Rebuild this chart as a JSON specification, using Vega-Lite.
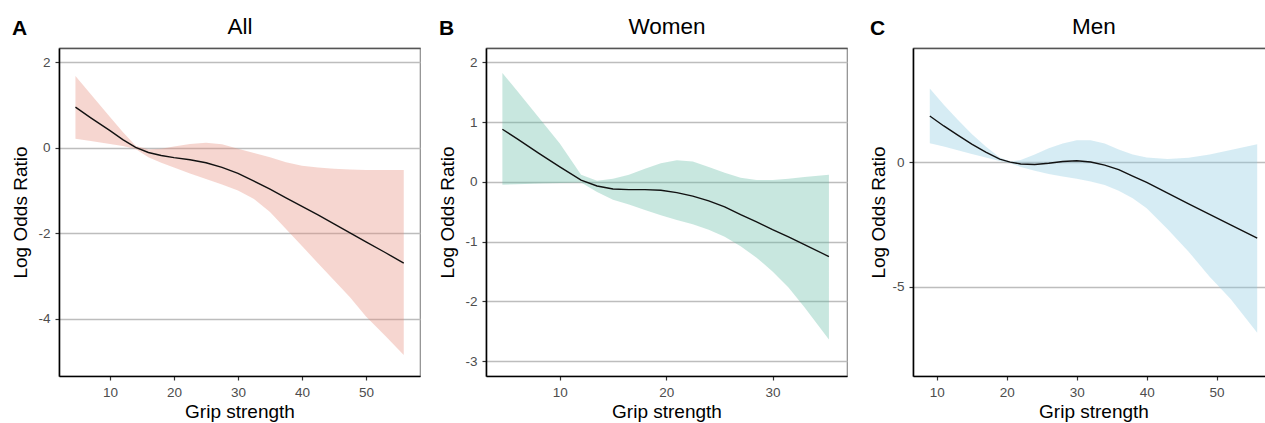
{
  "$schema": "https://vega.github.io/schema/vega-lite/v6.json",
  "padding": {"left": 11, "top": 14, "right": 0, "bottom": 0},
  "spacing": 66,
  "bounds": "flush",
  "config": {
    "font": "Liberation Sans",
    "view": {"stroke": "#8c8c8c", "strokeWidth": 1.2},
    "axis": {
      "labelFont": "Liberation Sans", "titleFont": "Liberation Sans",
      "labelFontSize": 13.5, "labelColor": "#4D4D4D",
      "titleFontSize": 19, "titleFontWeight": "normal", "titleColor": "black",
      "tickColor": "#333333", "tickSize": 4, "tickWidth": 1.2,
      "domainColor": "black", "domainWidth": 1.6,
      "gridColor": "#bdbdbd", "gridWidth": 1.3
    },
    "title": {"font": "Liberation Sans", "fontSize": 21, "fontWeight": "bold", "color": "black", "anchor": "start", "frame": "bounds", "offset": 0}
  },
  "datasets": {
    "A": [
      {"x": 4.6, "fit": 0.95, "lo": 0.21, "hi": 1.68},
      {"x": 7, "fit": 0.70, "lo": 0.16, "hi": 1.25},
      {"x": 10, "fit": 0.40, "lo": 0.09, "hi": 0.72},
      {"x": 12, "fit": 0.19, "lo": 0.04, "hi": 0.37},
      {"x": 14, "fit": 0.01, "lo": -0.03, "hi": 0.05},
      {"x": 16, "fit": -0.11, "lo": -0.22, "hi": -0.04},
      {"x": 18, "fit": -0.18, "lo": -0.35, "hi": -0.02},
      {"x": 20, "fit": -0.23, "lo": -0.46, "hi": 0.03},
      {"x": 22.5, "fit": -0.28, "lo": -0.6, "hi": 0.09},
      {"x": 25, "fit": -0.35, "lo": -0.73, "hi": 0.12},
      {"x": 27.5, "fit": -0.46, "lo": -0.86, "hi": 0.08},
      {"x": 30, "fit": -0.6, "lo": -1.0, "hi": -0.02},
      {"x": 32.5, "fit": -0.78, "lo": -1.2, "hi": -0.12},
      {"x": 35, "fit": -0.97, "lo": -1.5, "hi": -0.22},
      {"x": 37.5, "fit": -1.17, "lo": -1.9, "hi": -0.34},
      {"x": 40, "fit": -1.37, "lo": -2.3, "hi": -0.42},
      {"x": 42.5, "fit": -1.57, "lo": -2.7, "hi": -0.46},
      {"x": 45, "fit": -1.78, "lo": -3.1, "hi": -0.49},
      {"x": 47.5, "fit": -1.99, "lo": -3.5, "hi": -0.51},
      {"x": 50, "fit": -2.2, "lo": -3.95, "hi": -0.52},
      {"x": 53, "fit": -2.45, "lo": -4.4, "hi": -0.52},
      {"x": 55.9, "fit": -2.7, "lo": -4.85, "hi": -0.52}
    ],
    "B": [
      {"x": 4.6, "fit": 0.88, "lo": -0.05, "hi": 1.82},
      {"x": 6, "fit": 0.72, "lo": -0.04, "hi": 1.52},
      {"x": 8, "fit": 0.48, "lo": -0.03, "hi": 1.08},
      {"x": 10, "fit": 0.25, "lo": -0.02, "hi": 0.64},
      {"x": 12, "fit": 0.03, "lo": -0.01, "hi": 0.12},
      {"x": 13.5, "fit": -0.07, "lo": -0.17, "hi": 0.02},
      {"x": 15, "fit": -0.12, "lo": -0.3, "hi": 0.05},
      {"x": 16.5, "fit": -0.13, "lo": -0.38, "hi": 0.12},
      {"x": 18, "fit": -0.13, "lo": -0.47, "hi": 0.22},
      {"x": 19.5, "fit": -0.14, "lo": -0.56, "hi": 0.31},
      {"x": 21, "fit": -0.18, "lo": -0.64, "hi": 0.36},
      {"x": 22.5, "fit": -0.24, "lo": -0.71, "hi": 0.34},
      {"x": 24, "fit": -0.32, "lo": -0.8, "hi": 0.25},
      {"x": 25.5, "fit": -0.42, "lo": -0.92, "hi": 0.15},
      {"x": 27, "fit": -0.55, "lo": -1.08, "hi": 0.07},
      {"x": 28.5, "fit": -0.67, "lo": -1.27, "hi": 0.03},
      {"x": 30, "fit": -0.8, "lo": -1.5, "hi": 0.03},
      {"x": 31.5, "fit": -0.92, "lo": -1.77, "hi": 0.05},
      {"x": 33, "fit": -1.05, "lo": -2.1, "hi": 0.08},
      {"x": 35.3, "fit": -1.25, "lo": -2.64, "hi": 0.12}
    ],
    "C": [
      {"x": 9, "fit": 1.85, "lo": 0.76, "hi": 2.95},
      {"x": 11, "fit": 1.45, "lo": 0.62, "hi": 2.3},
      {"x": 13, "fit": 1.08, "lo": 0.47, "hi": 1.7},
      {"x": 15, "fit": 0.72, "lo": 0.32, "hi": 1.13},
      {"x": 17, "fit": 0.4, "lo": 0.18, "hi": 0.62},
      {"x": 19, "fit": 0.12, "lo": 0.04, "hi": 0.18},
      {"x": 20.5, "fit": 0.0, "lo": -0.05, "hi": 0.02},
      {"x": 22, "fit": -0.08, "lo": -0.2, "hi": 0.08},
      {"x": 24, "fit": -0.1, "lo": -0.35, "hi": 0.3},
      {"x": 26, "fit": -0.05, "lo": -0.48, "hi": 0.55},
      {"x": 28, "fit": 0.02, "lo": -0.58, "hi": 0.75},
      {"x": 30, "fit": 0.05, "lo": -0.67, "hi": 0.88},
      {"x": 32, "fit": 0.0, "lo": -0.78, "hi": 0.88},
      {"x": 34, "fit": -0.12, "lo": -0.92, "hi": 0.75},
      {"x": 36, "fit": -0.3, "lo": -1.15, "hi": 0.5},
      {"x": 38, "fit": -0.56, "lo": -1.45, "hi": 0.3},
      {"x": 40, "fit": -0.82, "lo": -1.85, "hi": 0.18},
      {"x": 43, "fit": -1.25, "lo": -2.7, "hi": 0.12},
      {"x": 46, "fit": -1.68, "lo": -3.6, "hi": 0.17},
      {"x": 49, "fit": -2.1, "lo": -4.6, "hi": 0.3},
      {"x": 52, "fit": -2.52, "lo": -5.5, "hi": 0.48},
      {"x": 55.8, "fit": -3.05, "lo": -6.85, "hi": 0.72}
    ]
  },
  "hconcat": [
    {
      "width": 361, "height": 328,
      "title": {"text": "A", "dy": 28},
      "data": {"name": "A"},
      "resolve": {"axis": {"x": "independent"}},
      "layer": [
        {
          "mark": {"type": "area", "color": "#E58A79", "opacity": 0.35},
          "encoding": {
            "x": {"field": "x", "type": "quantitative", "scale": {"domain": [2.03, 58.44], "nice": false, "zero": false},
                  "axis": {"orient": "bottom", "title": "Grip strength", "values": [10, 20, 30, 40, 50], "grid": false, "labelPadding": 5, "titlePadding": 4}},
            "y": {"field": "lo", "type": "quantitative", "scale": {"domain": [-5.34, 2.335], "nice": false, "zero": false},
                  "axis": {"title": "Log Odds Ratio", "values": [-4, -2, 0, 2], "labelExpr": "replace(datum.label, '\u2212', '-')", "grid": true, "labelPadding": 5, "titlePadding": 7}},
            "y2": {"field": "hi"}
          }
        },
        {
          "mark": {"type": "line", "color": "#111111", "strokeWidth": 1.4},
          "encoding": {
            "x": {"field": "x", "type": "quantitative",
                  "axis": {"orient": "top", "title": "All", "titleFontSize": 22.5, "titlePadding": 10, "labels": false, "ticks": false, "grid": false, "domainColor": "#555555", "domainWidth": 1.4}},
            "y": {"field": "fit", "type": "quantitative", "axis": {"title": "Log Odds Ratio", "values": [-4, -2, 0, 2], "labelExpr": "replace(datum.label, '\u2212', '-')", "grid": true, "labelPadding": 5, "titlePadding": 7}}
          }
        }
      ]
    },
    {
      "width": 361, "height": 328,
      "title": {"text": "B", "dy": 28},
      "data": {"name": "B"},
      "resolve": {"axis": {"x": "independent"}},
      "layer": [
        {
          "mark": {"type": "area", "color": "#62BAA4", "opacity": 0.35},
          "encoding": {
            "x": {"field": "x", "type": "quantitative", "scale": {"domain": [3.06, 37.0], "nice": false, "zero": false},
                  "axis": {"orient": "bottom", "title": "Grip strength", "values": [10, 20, 30], "grid": false, "labelPadding": 5, "titlePadding": 4}},
            "y": {"field": "lo", "type": "quantitative", "scale": {"domain": [-3.25, 2.24], "nice": false, "zero": false},
                  "axis": {"title": "Log Odds Ratio", "values": [-3, -2, -1, 0, 1, 2], "labelExpr": "replace(datum.label, '\u2212', '-')", "grid": true, "labelPadding": 5, "titlePadding": 7}},
            "y2": {"field": "hi"}
          }
        },
        {
          "mark": {"type": "line", "color": "#111111", "strokeWidth": 1.4},
          "encoding": {
            "x": {"field": "x", "type": "quantitative",
                  "axis": {"orient": "top", "title": "Women", "titleFontSize": 22.5, "titlePadding": 10, "labels": false, "ticks": false, "grid": false, "domainColor": "#555555", "domainWidth": 1.4}},
            "y": {"field": "fit", "type": "quantitative", "axis": {"title": "Log Odds Ratio", "values": [-3, -2, -1, 0, 1, 2], "labelExpr": "replace(datum.label, '\u2212', '-')", "grid": true, "labelPadding": 5, "titlePadding": 7}}
          }
        }
      ]
    },
    {
      "width": 361, "height": 328,
      "title": {"text": "C", "dy": 28},
      "data": {"name": "C"},
      "resolve": {"axis": {"x": "independent"}},
      "layer": [
        {
          "mark": {"type": "area", "color": "#8AC9E0", "opacity": 0.35},
          "encoding": {
            "x": {"field": "x", "type": "quantitative", "scale": {"domain": [6.6, 58.2], "nice": false, "zero": false},
                  "axis": {"orient": "bottom", "title": "Grip strength", "values": [10, 20, 30, 40, 50], "grid": false, "labelPadding": 5, "titlePadding": 4}},
            "y": {"field": "lo", "type": "quantitative", "scale": {"domain": [-8.59, 4.58], "nice": false, "zero": false},
                  "axis": {"title": "Log Odds Ratio", "values": [-5, 0], "labelExpr": "replace(datum.label, '\u2212', '-')", "grid": true, "labelPadding": 5, "titlePadding": 3}},
            "y2": {"field": "hi"}
          }
        },
        {
          "mark": {"type": "line", "color": "#111111", "strokeWidth": 1.4},
          "encoding": {
            "x": {"field": "x", "type": "quantitative",
                  "axis": {"orient": "top", "title": "Men", "titleFontSize": 22.5, "titlePadding": 10, "labels": false, "ticks": false, "grid": false, "domainColor": "#555555", "domainWidth": 1.4}},
            "y": {"field": "fit", "type": "quantitative", "axis": {"title": "Log Odds Ratio", "values": [-5, 0], "labelExpr": "replace(datum.label, '\u2212', '-')", "grid": true, "labelPadding": 5, "titlePadding": 3}}
          }
        }
      ]
    }
  ]
}
